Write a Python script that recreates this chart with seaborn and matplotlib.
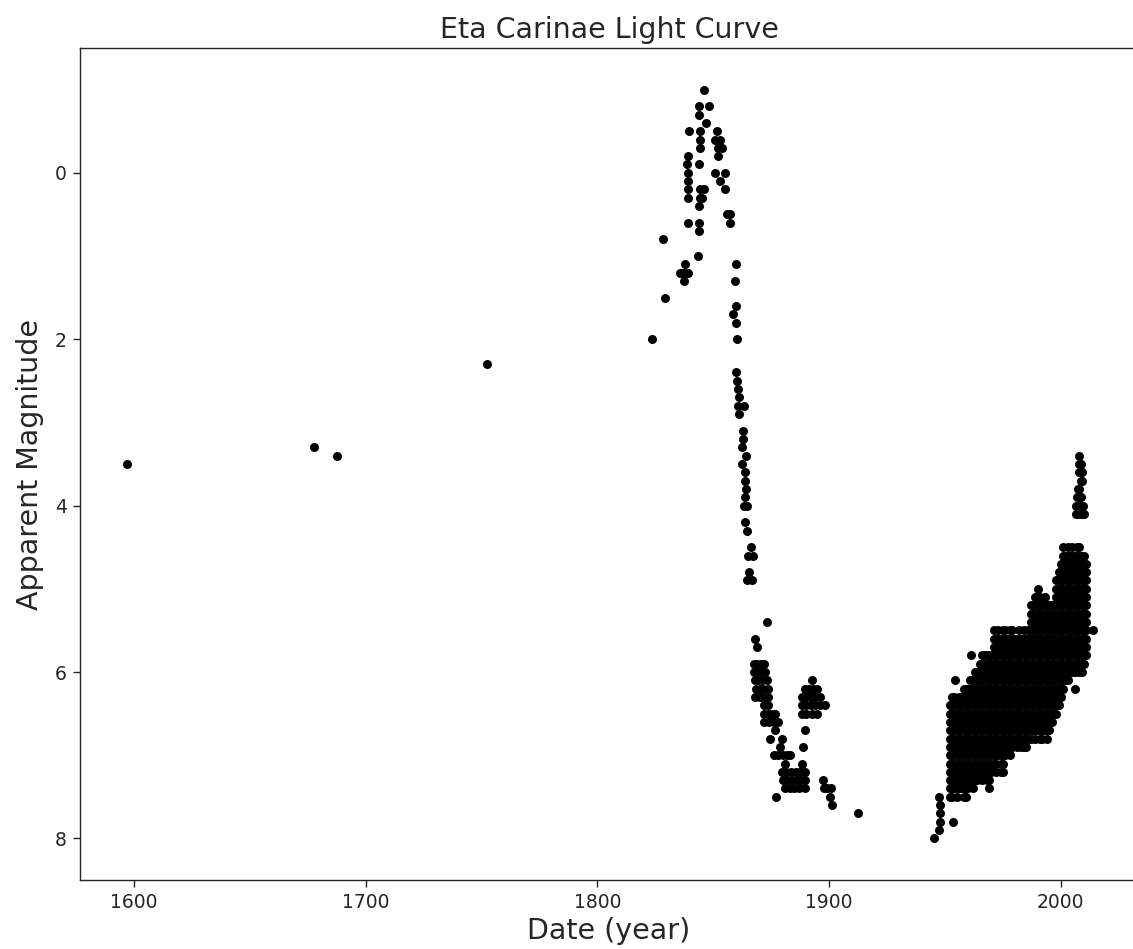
import numpy as np
import pandas as pd
import matplotlib
matplotlib.use("Agg")
import matplotlib.pyplot as plt
import seaborn as sns

# --- Historical naked-eye / early telescopic estimates (year, magnitude) ---
early_year = [1596.8, 1677.7, 1687.5, 1752.5]
early_mag = [3.5, 3.3, 3.4, 2.3]

# --- Great Eruption: rise, peak and fading (1820-1875) ---
erupt_year = [
    1823.4, 1828.5, 1829.2,
    1835.6, 1837.0, 1837.5, 1838.0, 1838.0, 1839.0, 1843.3,
    1839.5, 1839.3, 1838.5, 1839.3, 1839.3, 1839.3, 1839.3, 1839.3,
    1844.0, 1844.0, 1844.3, 1844.3, 1844.3, 1844.0, 1844.3, 1844.3, 1844.0, 1844.0, 1844.0,
    1845.0, 1845.8, 1846.0, 1846.9, 1848.3,
    1851.8, 1850.7, 1852.9, 1852.2, 1853.6, 1852.2, 1850.7, 1855.1, 1852.9, 1855.1,
    1855.8, 1857.2, 1857.2,
    1859.8, 1859.4, 1859.8, 1858.7, 1859.8, 1860.3, 1859.7, 1860.3, 1860.7, 1861.2,
    1860.7, 1863.3, 1861.2, 1863.0, 1863.0, 1862.6, 1864.1, 1862.3, 1863.7, 1863.7,
    1864.1, 1863.7, 1863.3, 1864.4, 1863.7, 1864.7, 1866.3, 1865.1, 1867.3, 1865.5,
    1864.4, 1866.6, 1873.1, 1868.0, 1868.7,
]
erupt_mag = [
    2.0, 0.8, 1.5,
    1.2, 1.2, 1.3, 1.1, 1.2, 1.2, 1.0,
    -0.5, -0.2, -0.1, 0.0, 0.1, 0.2, 0.3, 0.6,
    -0.8, -0.7, -0.5, -0.4, -0.3, -0.1, 0.2, 0.3, 0.4, 0.6, 0.7,
    0.3, 0.2, -1.0, -0.6, -0.8,
    -0.5, -0.4, -0.4, -0.3, -0.3, -0.2, 0.0, 0.0, 0.1, 0.2,
    0.5, 0.5, 0.6,
    1.1, 1.3, 1.6, 1.7, 1.8, 2.0, 2.4, 2.5, 2.6, 2.7,
    2.8, 2.8, 2.9, 3.1, 3.2, 3.3, 3.4, 3.5, 3.6, 3.7,
    3.8, 3.9, 4.0, 4.0, 4.2, 4.3, 4.5, 4.6, 4.6, 4.8,
    4.9, 4.9, 5.4, 5.6, 5.7,
]

# --- Post-eruption minimum and the 1890 lesser eruption ---
minimum_year = [
    1867.5, 1869.0, 1870.5, 1872.0,
    1867.5, 1869.0, 1870.5, 1872.5,
    1868.0, 1869.5, 1871.0, 1873.0,
    1868.5, 1870.0, 1871.5, 1873.5,
    1868.0, 1870.0, 1872.0, 1873.5,
    1872.0, 1873.5,
    1872.0, 1873.5, 1875.0, 1876.5,
    1872.0, 1874.0, 1876.0, 1878.0,
    1876.7, 1874.5, 1879.5, 1879.0,
    1876.0, 1878.0, 1880.0, 1882.0, 1883.0,
    1881.0, 1888.2,
    1879.5, 1881.5, 1883.5, 1885.5, 1887.5, 1889.5,
    1880.0, 1882.0, 1884.0, 1886.0, 1888.0, 1889.6, 1897.5,
    1881.0, 1883.0, 1885.0, 1887.0, 1889.5, 1897.6, 1899.0, 1901.0,
    1876.9, 1900.4, 1901.1, 1912.3,
    1892.5,
    1889.6, 1891.5, 1893.0, 1894.7,
    1888.2, 1890.0, 1892.0, 1894.0, 1896.0,
    1888.2, 1890.0, 1892.0, 1894.0, 1896.0, 1898.2,
    1888.2, 1890.0, 1892.5, 1894.7,
    1889.6, 1888.9,
]
minimum_mag = [
    5.9, 5.9, 5.9, 5.9,
    6.0, 6.0, 6.0, 6.0,
    6.1, 6.1, 6.1, 6.1,
    6.2, 6.2, 6.2, 6.2,
    6.3, 6.3, 6.3, 6.3,
    6.4, 6.4,
    6.5, 6.5, 6.5, 6.5,
    6.6, 6.6, 6.6, 6.6,
    6.7, 6.8, 6.8, 6.9,
    7.0, 7.0, 7.0, 7.0, 7.0,
    7.1, 7.1,
    7.2, 7.2, 7.2, 7.2, 7.2, 7.2,
    7.3, 7.3, 7.3, 7.3, 7.3, 7.3, 7.3,
    7.4, 7.4, 7.4, 7.4, 7.4, 7.4, 7.4, 7.4,
    7.5, 7.5, 7.6, 7.7,
    6.1,
    6.2, 6.2, 6.2, 6.2,
    6.3, 6.3, 6.3, 6.3, 6.3,
    6.4, 6.4, 6.4, 6.4, 6.4, 6.4,
    6.5, 6.5, 6.5, 6.5,
    6.7, 6.9,
]

# --- Modern photometry: isolated estimates ---
modern_year = [1945.4, 1947.5, 1948.0, 1948.0, 1948.0, 1947.5, 1953.6, 1954.3,
               1961.1, 2006.1, 2014.0,
               2008.0, 2008.0, 2008.5, 2008.0, 2009.0, 2008.5, 2009.0,
               2007.5, 2008.0, 2007.0, 2008.0, 2008.5,
               2006.5, 2007.5, 2008.5, 2009.5,
               2006.5, 2007.5, 2008.5, 2009.5, 2010.0]
modern_mag = [8.0, 7.5, 7.6, 7.7, 7.8, 7.9, 7.8, 6.1,
              5.8, 6.2, 5.5,
              3.4, 3.5, 3.5, 3.6, 3.6, 3.7, 3.7,
              3.8, 3.8, 3.9, 3.9, 3.9,
              4.0, 4.0, 4.0, 4.0,
              4.1, 4.1, 4.1, 4.1, 4.1]

# --- Modern photometry: yearly observed range (brightest, faintest), 0.1 mag steps ---
band_year = list(range(1952, 2012))
band_bright = [6.4, 6.3, 6.3, 6.4, 6.3, 6.3, 6.2, 6.2, 6.2, 6.1,
               6.1, 6.0, 6.0, 5.9, 5.8, 5.8, 5.8, 5.8, 5.8, 5.5,
               5.6, 5.5, 5.6, 5.5, 5.5, 5.6, 5.5, 5.5, 5.6, 5.7,
               5.5, 5.6, 5.5, 5.6, 5.5, 5.2, 5.2, 5.1, 5.0, 5.1,
               5.2, 5.1, 5.2, 5.2, 5.2, 5.2, 4.9, 4.8, 4.7, 4.5,
               4.6, 4.5, 4.6, 4.5, 4.6, 4.5, 4.5, 4.6, 4.6, 4.7]
band_faint = [7.5, 7.5, 7.4, 7.5, 7.4, 7.4, 7.5, 7.5, 7.4, 7.3,
              7.4, 7.3, 7.3, 7.2, 7.3, 7.2, 7.3, 7.4, 7.2, 7.1,
              7.2, 7.0, 7.2, 7.2, 7.0, 6.9, 7.0, 6.9, 6.8, 6.9,
              6.8, 6.9, 6.9, 6.9, 6.8, 6.8, 6.7, 6.8, 6.7, 6.8,
              6.8, 6.7, 6.8, 6.7, 6.6, 6.5, 6.5, 6.4, 6.3, 6.2,
              6.1, 6.1, 6.0, 6.0, 6.0, 5.9, 6.0, 6.0, 5.9, 5.8]

# Long-form table for seaborn
band_rows_year, band_rows_mag = [], []
for yr, lo, hi in zip(band_year, band_bright, band_faint):
    n = int(round((hi - lo) * 10)) + 1
    for k in range(n):
        band_rows_year.append(yr)
        band_rows_mag.append(round(lo + 0.1 * k, 1))

df = pd.DataFrame({
    "year": early_year + erupt_year + minimum_year + modern_year + band_rows_year,
    "mag": early_mag + erupt_mag + minimum_mag + modern_mag + band_rows_mag,
})

sns.set_style("white")
plt.rcParams["font.family"] = ["DejaVu Sans"]

fig = plt.figure(figsize=(11.33, 9.49), dpi=100)
ax = fig.add_axes([79.5 / 1133, 69 / 949, (1138.5 - 79.5) / 1133, (880 - 48) / 949])

sns.scatterplot(data=df, x="year", y="mag", color="black", s=42,
                linewidth=0, ax=ax, legend=False)

ax.set_xlim(1576.5, 2033.5)
ax.set_ylim(8.5, -1.5)
ax.set_xticks([1600, 1700, 1800, 1900, 2000])
ax.set_yticks([0, 2, 4, 6, 8])
ax.tick_params(axis="both", labelsize=13.5, length=5, width=1, colors="#262626",
               direction="out", bottom=True, left=True, pad=4)
for side in ax.spines.values():
    side.set_color("#262626")
    side.set_linewidth(1.0)

ax.set_title("Eta Carinae Light Curve", fontsize=20.5, pad=7, color="#262626")
ax.set_xlabel("Date (year)", fontsize=20.5, labelpad=4, color="#262626")
ax.set_ylabel("Apparent Magnitude", fontsize=20.5, labelpad=8, color="#262626")

fig.savefig("out.png", dpi=100)
